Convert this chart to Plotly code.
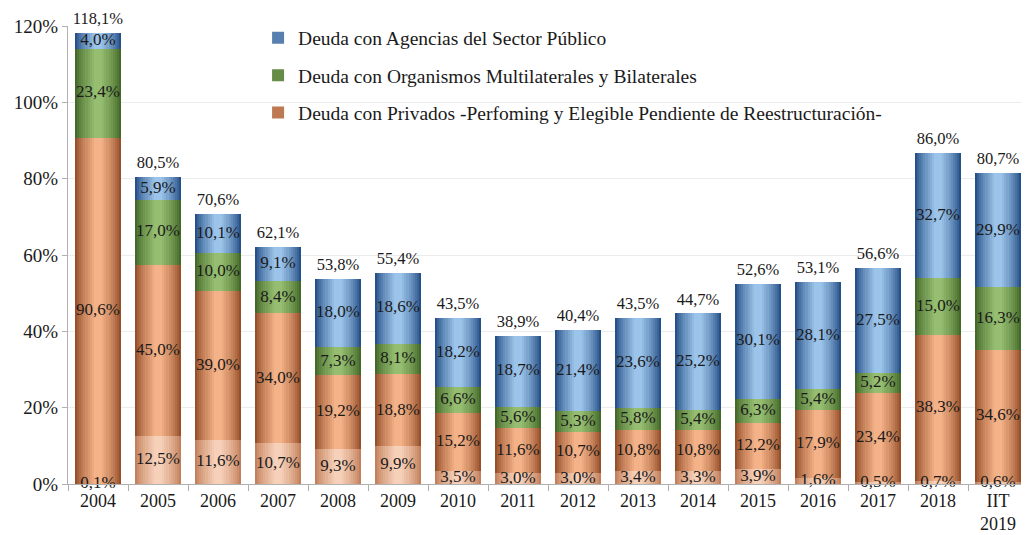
import plotly.graph_objects as go

# Data
years = ['2004', '2005', '2006', '2007', '2008', '2009', '2010', '2011', '2012',
         '2013', '2014', '2015', '2016', '2017', '2018', 'IIT<br>2019']
otros = [0.1, 12.5, 11.6, 10.7, 9.3, 9.9, 3.5, 3.0, 3.0, 3.4, 3.3, 3.9, 1.6, 0.5, 0.7, 0.6]
privados = [90.6, 45.0, 39.0, 34.0, 19.2, 18.8, 15.2, 11.6, 10.7, 10.8, 10.8, 12.2, 17.9, 23.4, 38.3, 34.6]
multilaterales = [23.4, 17.0, 10.0, 8.4, 7.3, 8.1, 6.6, 5.6, 5.3, 5.8, 5.4, 6.3, 5.4, 5.2, 15.0, 16.3]
agencias = [4.0, 5.9, 10.1, 9.1, 18.0, 18.6, 18.2, 18.7, 21.4, 23.6, 25.2, 30.1, 28.1, 27.5, 32.7, 29.9]
totales = [118.1, 80.5, 70.6, 62.1, 53.8, 55.4, 43.5, 38.9, 40.4, 43.5, 44.7, 52.6, 53.1, 56.6, 86.0, 80.7]

# key, values, legend name, legend rank, (edge colour, centre colour)
series = [
    ('otros', otros, None, 4, ((195, 128, 92), (246, 208, 184))),
    ('privados', privados, 'Deuda con Privados -Perfoming y Elegible Pendiente de Reestructuración-', 3,
     ((150, 80, 42), (244, 178, 136))),
    ('multi', multilaterales, 'Deuda con Organismos Multilaterales y Bilaterales', 2,
     ((68, 105, 42), (150, 190, 112))),
    ('agencias', agencias, 'Deuda con Agencias del Sector Público', 1,
     ((38, 80, 135), (156, 196, 234))),
]

FONT = 'Liberation Serif'


def fmt(v):
    return f'{v:.1f}%'.replace('.', ',')


def mix(a, b, t):
    return 'rgb(%d,%d,%d)' % tuple(round(a[i] + (b[i] - a[i]) * t) for i in range(3))


fig = go.Figure()

# bars drawn in layers (narrower & lighter towards the centre) to fake the cylinder shading
widths = [0.77, 0.70, 0.63, 0.56, 0.49, 0.42, 0.35, 0.28, 0.21, 0.14]
n = len(widths)
for k, w in enumerate(widths):
    axis = 'x' if k == 0 else f'x{k + 1}'
    t = (k / (n - 1)) ** 0.8
    for key, vals, name, rank, (edge, centre) in series:
        fig.add_trace(go.Bar(
            x=years, y=vals, width=w, xaxis=axis,
            marker=dict(color=mix(edge, centre, t), line=dict(width=0)),
            name=name if name else key,
            legendgroup=key, legendrank=rank,
            showlegend=(k == 3 and name is not None),
            hoverinfo='skip',
        ))

# segment labels
top_axis = f'x{n}'
base = [0.0] * len(years)
for key, vals, name, rank, cols in series:
    mids = [b + v / 2 for b, v in zip(base, vals)]
    fig.add_trace(go.Scatter(
        x=years, y=mids, mode='text', text=[fmt(v) for v in vals],
        textposition='middle center', xaxis=top_axis, cliponaxis=False,
        textfont=dict(family=FONT, size=17, color='#1a1a1a'),
        showlegend=False, hoverinfo='skip',
    ))
    base = [b + v for b, v in zip(base, vals)]

# totals above each bar
fig.add_trace(go.Scatter(
    x=years, y=base, mode='markers+text', text=[fmt(v) for v in totales],
    textposition='top center', xaxis=top_axis, cliponaxis=False,
    marker=dict(size=6, opacity=0),
    textfont=dict(family=FONT, size=16.5, color='#1a1a1a'),
    showlegend=False, hoverinfo='skip',
))

hidden = dict(visible=False, overlaying='x', type='category',
              categoryorder='array', categoryarray=years, range=[-0.5, 15.5])
layout_axes = {f'xaxis{k + 1}': hidden for k in range(1, n)}

# page body has an 8px margin, so the figure is a bit smaller than the window
fig.update_layout(
    width=1021, height=527,
    margin=dict(l=60, r=1, t=18, b=51),
    barmode='stack',
    plot_bgcolor='white', paper_bgcolor='white',
    font=dict(family=FONT, size=18, color='#1a1a1a'),
    xaxis=dict(type='category', categoryorder='array', categoryarray=years,
               range=[-0.5, 15.5], showline=True, linecolor='#b0b0b0', linewidth=1,
               ticks='outside', tickson='boundaries', ticklen=6, tickcolor='#b0b0b0',
               showgrid=False, tickfont=dict(family=FONT, size=18)),
    yaxis=dict(range=[0, 120], dtick=20, ticksuffix='%', showline=True,
               linecolor='#b0b0b0', linewidth=1, ticks='outside', ticklen=5,
               tickcolor='#b0b0b0', gridcolor='#ececec', zeroline=False,
               tickfont=dict(family=FONT, size=19)),
    legend=dict(x=0.198, y=1.016, xanchor='left', yanchor='top',
                traceorder='grouped', tracegroupgap=9,
                bgcolor='rgba(0,0,0,0)', font=dict(family=FONT, size=19.5),
                itemwidth=30),
    showlegend=True,
    **layout_axes,
)

fig.write_html('out.html')
